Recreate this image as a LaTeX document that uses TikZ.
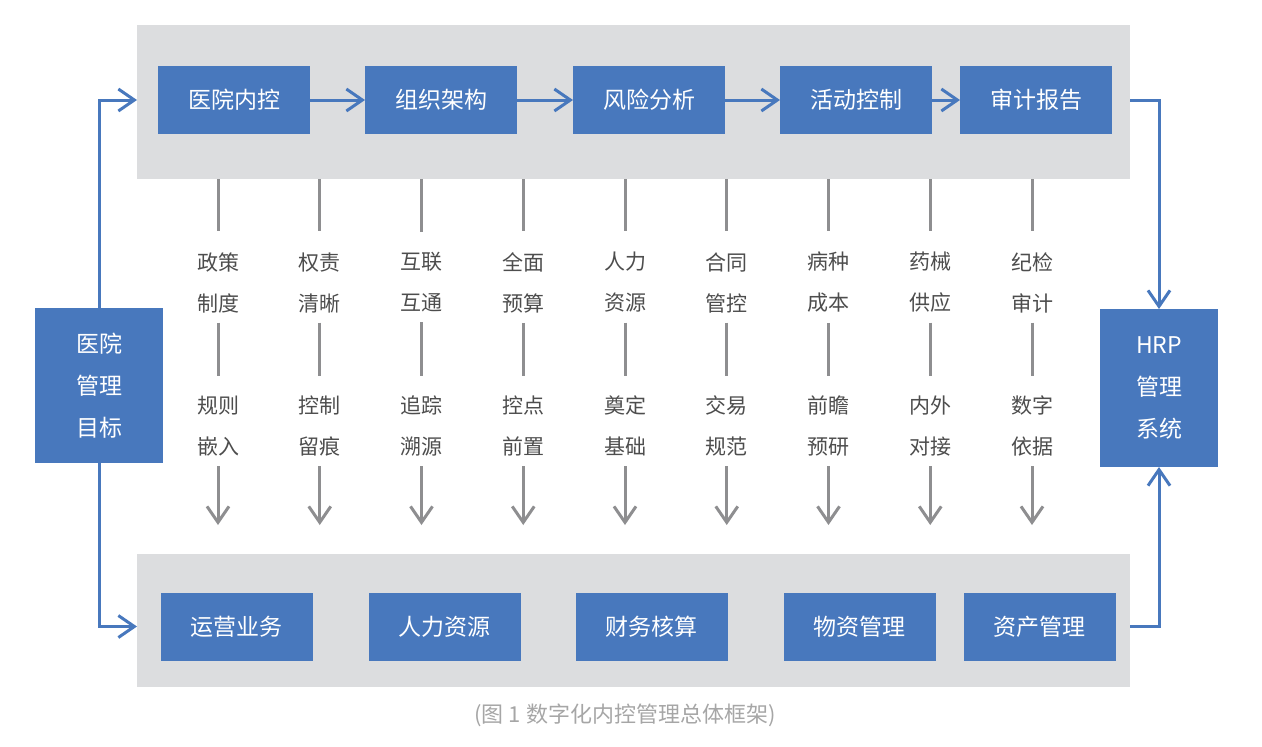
\documentclass[tikz,border=0pt]{standalone}
\usepackage{fontspec}
\setmainfont{Noto Sans CJK SC}
\usetikzlibrary{positioning}
\usetikzlibrary{arrows.meta}
\definecolor{boxblue}{RGB}{72,120,189}
\definecolor{panelgray}{RGB}{220,221,223}
\definecolor{arrowgray}{RGB}{142,142,144}
\definecolor{textgray}{RGB}{77,77,77}
\definecolor{capgray}{RGB}{166,166,166}

\begin{document}
\begin{tikzpicture}[x=0.5pt,y=-0.5pt,>={Straight Barb[length=8pt,width=11pt]},
			line width=1.5pt]
			\tikzstyle{panel}=[fill=panelgray,inner sep=0pt,outer sep=0pt]
			\tikzstyle{box}=[fill=boxblue,text=white,inner sep=0pt,outer sep=0pt,minimum width=76pt,
			minimum height=34pt,font=\fontsize{11.5}{14}\selectfont]
			\tikzstyle{tall box}=[box,align=center,font=\fontsize{11.5}{21}\selectfont]
			\tikzstyle{flow}=[->,draw=boxblue]
			\tikzstyle{col}=[draw=arrowgray]
			\tikzstyle{word}=[text=textgray,inner sep=0pt,outer sep=0pt,align=center,
			font=\fontsize{10.5}{20.5}\selectfont]
			
			\useasboundingbox (0,0) rectangle (1262,746);
			
			\node[panel,minimum width=496.5pt,minimum height=77pt]   (toppanel) at (633.5,102) {};
			\node[panel,minimum width=496.5pt,minimum height=66.5pt] (botpanel) at (633.5,620.5) {};
			
			\node[box]         (t1) at (234,100)        {医院内控};
			\node[box]         (t2) [right=27.5pt of t1] {组织架构};
			\node[box]         (t3) [right=28pt of t2]   {风险分析};
			\node[box]         (t4) [right=27.5pt of t3] {活动控制};
			\node[box]         (t5) [right=14pt of t4]   {审计报告};
			
			\node[box]         (b1) at (236.5,626.5)     {运营业务};
			\node[box]         (b2) [right=28pt of b1]   {人力资源};
			\node[box]         (b3) [right=27.5pt of b2] {财务核算};
			\node[box]         (b4) [right=28pt of b3]   {物资管理};
			\node[box]         (b5) [right=14pt of b4]   {资产管理};
			
			\node[tall box,minimum width=64pt,minimum height=77.5pt] (goal) at (99,385.5)  {医院\\管理\\目标};
			\node[tall box,minimum width=59pt,minimum height=79pt]   (hrp)  at (1159,388)  {HRP\\管理\\系统};
			
			\path[flow] (t1) edge (t2)
			(t2) edge (t3)
			(t3) edge (t4)
			(t4) edge (t5);
			
			\draw[flow] (goal.north) |- (toppanel.west |- t1);
			\draw[flow] (goal.south) |- (botpanel.west |- b1);
			\draw[flow] (toppanel.east |- t5) -| (hrp.north);
			\draw[flow] (botpanel.east |- b5) -| (hrp.south);
			
			\foreach \a/\b/\c/\d [count=\i] in {政策/制度/规则/嵌入, 权责/清晰/控制/留痕,
				互联/互通/追踪/溯源, 全面/预算/控点/前置, 人力/资源/奠定/基础,
				合同/管控/交易/规范, 病种/成本/前瞻/预研, 药械/供应/内外/对接,
				纪检/审计/数字/依据}
			{
				\pgfmathsetmacro{\x}{218+(\i-1)*101.75}
				\node[word] (u\i) at (\x,282.5) {\a\\\b};
				\node[word] (l\i) at (\x,426)   {\c\\\d};
				\draw[col,shorten >=10.5pt] (toppanel.south -| u\i) -- (u\i.north);
				\draw[col,shorten <=5pt,shorten >=10pt] (u\i.south) -- (l\i.north);
				\draw[col,->,shorten <=5pt,shorten >=14.5pt] (l\i.south) -- (botpanel.north -| l\i);
			}
			
			\node[text=capgray,font=\fontsize{11}{13}\selectfont] (caption) at (625,715)
			{(图 1 数字化内控管理总体框架)};
\end{tikzpicture}
\end{document}
